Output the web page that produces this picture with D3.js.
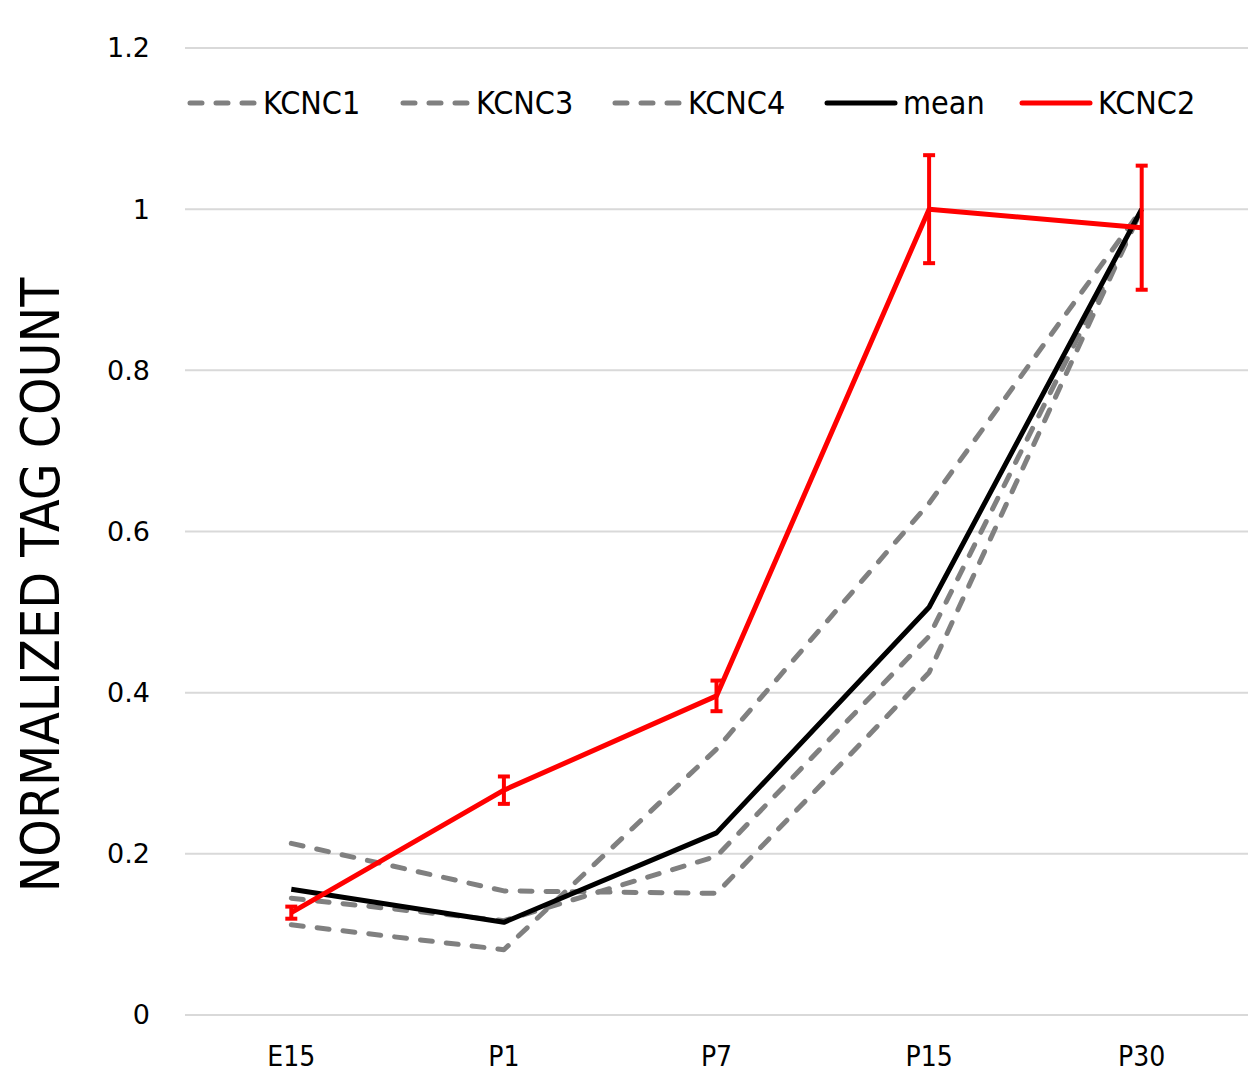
<!DOCTYPE html>
<html>
<head>
<meta charset="utf-8">
<script src="https://cdn.jsdelivr.net/npm/d3@7"></script>
<style>
  body { margin: 0; background: #fff; }
  svg { display: block; }
  text { font-family: "Liberation Sans Narrow", "DejaVu Sans Condensed", sans-serif; fill: #000; }
</style>
</head>
<body>
<svg width="1252" height="1076"></svg>
<script>
// Data
const stages = ["E15", "P1", "P7", "P15", "P30"];
const kcnc1 = [0.213, 0.154, 0.151, 0.425, 1.0];
const kcnc3 = [0.145, 0.117, 0.197, 0.470, 1.0];
const kcnc4 = [0.112, 0.081, 0.330, 0.635, 1.0];
const meanVals = [0.156, 0.115, 0.226, 0.506, 1.0];
const kcnc2 = [0.127, 0.279, 0.396, 1.0, 0.977];
const kcnc2Err = [0.0075, 0.017, 0.019, 0.067, 0.077];
const yTicks = [0, 0.2, 0.4, 0.6, 0.8, 1, 1.2];

const svg = d3.select("svg");

// Plot area
const plotLeft = 185, plotRight = 1248, plotTop = 48, plotBottom = 1015;

const x = d3.scaleBand().domain(stages).range([plotLeft, plotRight]);
const y = d3.scaleLinear().domain([0, 1.2]).range([plotBottom, plotTop]);
const cx = d => x(d) + x.bandwidth() / 2;

// Gridlines
svg.append("g")
  .selectAll("line")
  .data(yTicks)
  .enter().append("line")
  .attr("x1", plotLeft).attr("x2", plotRight)
  .attr("y1", d => y(d)).attr("y2", d => y(d))
  .attr("stroke", "#d9d9d9")
  .attr("stroke-width", 2);

// Y tick labels
svg.append("g")
  .selectAll("text")
  .data(yTicks)
  .enter().append("text")
  .attr("x", 150)
  .attr("y", d => y(d))
  .attr("dy", "0.35em")
  .attr("text-anchor", "end")
  .style("font-family", "'DejaVu Sans', sans-serif")
  .style("font-size", "27px")
  .text(d => d);

// X tick labels
svg.append("g")
  .selectAll("text")
  .data(stages)
  .enter().append("text")
  .attr("x", d => cx(d))
  .attr("y", 1066)
  .attr("text-anchor", "middle")
  .style("font-size", "28px")
  .text(d => d);

// Y axis title
svg.append("text")
  .attr("transform", "translate(59,585) rotate(-90)")
  .attr("text-anchor", "middle")
  .style("font-size", "53px")
  .text("NORMALIZED TAG COUNT");

const line = d3.line()
  .x((d, i) => cx(stages[i]))
  .y(d => y(d));

// Gray dashed series
const grays = [kcnc1, kcnc3, kcnc4];
grays.forEach(vals => {
  svg.append("path")
    .datum(vals)
    .attr("d", line)
    .attr("fill", "none")
    .attr("stroke", "#808080")
    .attr("stroke-width", 5)
    .attr("stroke-dasharray", "12,14")
    .attr("stroke-linecap", "round")
    .attr("stroke-linejoin", "round");
});

// Mean
svg.append("path")
  .datum(meanVals)
  .attr("d", line)
  .attr("fill", "none")
  .attr("stroke", "#000")
  .attr("stroke-width", 5)
  .attr("stroke-linejoin", "round");

// KCNC2 error bars
const errG = svg.append("g").attr("stroke", "#ff0000").attr("stroke-width", 4);
kcnc2.forEach((v, i) => {
  const xc = cx(stages[i]);
  const y1 = y(v + kcnc2Err[i]), y2 = y(v - kcnc2Err[i]);
  errG.append("line").attr("x1", xc).attr("x2", xc).attr("y1", y1).attr("y2", y2);
  errG.append("line").attr("x1", xc - 6).attr("x2", xc + 6).attr("y1", y1).attr("y2", y1);
  errG.append("line").attr("x1", xc - 6).attr("x2", xc + 6).attr("y1", y2).attr("y2", y2);
});

// KCNC2
svg.append("path")
  .datum(kcnc2)
  .attr("d", line)
  .attr("fill", "none")
  .attr("stroke", "#ff0000")
  .attr("stroke-width", 5)
  .attr("stroke-linejoin", "round");

// Legend
const legendItems = [
  { name: "KCNC1", color: "#808080", dash: true, x: 187 },
  { name: "KCNC3", color: "#808080", dash: true, x: 400 },
  { name: "KCNC4", color: "#808080", dash: true, x: 612 },
  { name: "mean", color: "#000", dash: false, x: 827 },
  { name: "KCNC2", color: "#ff0000", dash: false, x: 1022 }
];
const legend = svg.append("g");
legendItems.forEach(item => {
  legend.append("line")
    .attr("x1", item.dash ? item.x + 3 : item.x)
    .attr("x2", item.x + 68)
    .attr("y1", 103).attr("y2", 103)
    .attr("stroke", item.color)
    .attr("stroke-width", 5)
    .attr("stroke-dasharray", item.dash ? "12,14" : null)
    .attr("stroke-linecap", "round");
  legend.append("text")
    .attr("x", item.x + 76)
    .attr("y", 103)
    .attr("dy", "0.35em")
    .style("font-size", "32px")
    .text(item.name);
});
</script>
</body>
</html>
